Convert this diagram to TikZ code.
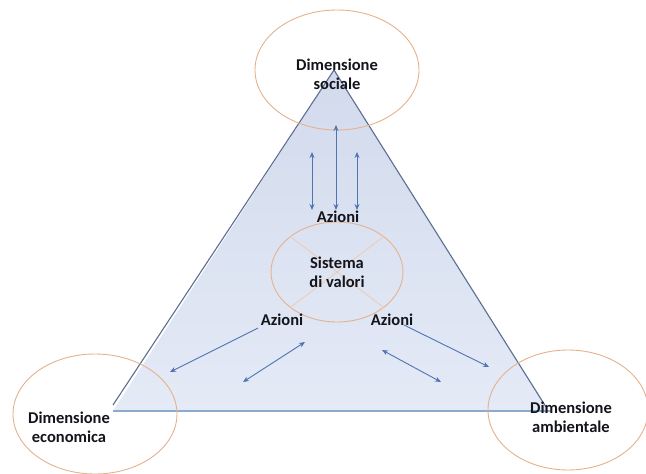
\documentclass[tikz,border=0pt]{standalone}
\usepackage{fontspec}
\setmainfont{Carlito}
\usetikzlibrary{arrows.meta,shapes.geometric}
\definecolor{ellc}{RGB}{230,178,142}
\definecolor{crossc}{RGB}{236,204,178}
\definecolor{trifillA}{RGB}{210,218,236}
\definecolor{trifillB}{RGB}{228,234,246}
\definecolor{triedge}{RGB}{92,110,145}
\definecolor{baseedge}{RGB}{140,170,205}
\definecolor{arrc}{RGB}{80,115,180}
\definecolor{txtc}{RGB}{20,20,28}
\tikzset{
  dimell/.style={draw=ellc, line width=0.9pt, ellipse, minimum width=164pt, minimum height=120pt, inner sep=0pt},
  lbl/.style={font=\fontsize{16.5}{19}\selectfont\bfseries, text=txtc, align=center, inner sep=0pt},
  arr/.style={draw=arrc, line width=0.9pt, {Stealth[length=6pt,width=5pt]}-{Stealth[length=6pt,width=5pt]}},
  arrone/.style={draw=arrc, line width=0.9pt, -{Stealth[length=6pt,width=5pt]}}
}
\begin{document}
\begin{tikzpicture}[x=1pt,y=-1pt]
\useasboundingbox (0,0) rectangle (646,474);
\fill[white] (0,0) rectangle (646,474);
% triangle
\coordinate (apex) at (334,70);
\coordinate (bl) at (113,405);
\coordinate (br) at (546,407);
\shade[top color=trifillA, bottom color=trifillB] (apex) -- (113,411) -- (549,411) -- cycle;
\draw[triedge, line width=1.1pt] (bl) -- (apex) -- (br);
\draw[baseedge, line width=1.1pt] (113,411) -- (550,411);
% ellipses
\node[dimell] (soc) at (337,70) {};
\node[dimell] (eco) at (95,414) {};
\node[dimell, minimum width=160pt] (amb) at (568,410) {};
\node[dimell, minimum width=132pt, minimum height=100pt] (val) at (337,272) {};
\draw[crossc, line width=0.8pt] (val.north west) -- (val.south east);
\draw[crossc, line width=0.8pt] (val.north east) -- (val.south west);
% texts
\node[lbl] (tsoc) at (337,74) {Dimensione\\sociale};
\node[lbl] (teco) at (69,427) {Dimensione\\economica};
\node[lbl] (tamb) at (571,417) {Dimensione\\ambientale};
\node[lbl] (tval) at (337,272) {Sistema\\di valori};
\node[lbl] (az1) at (338,217) {Azioni};
\node[lbl] (az2) at (282,320) {Azioni};
\node[lbl] (az3) at (392,320) {Azioni};
% vertical arrows
\coordinate (v1t) at (312,152); \coordinate (v1b) at (312,210);
\coordinate (v2t) at (336,125); \coordinate (v2b) at (336,210);
\coordinate (v3t) at (357,152); \coordinate (v3b) at (357,210);
\draw[arr] (v1t) -- (v1b);
\draw[arr] (v2t) -- (v2b);
\draw[arr] (v3t) -- (v3b);
% lower arrows
\coordinate (l1a) at (258,328); \coordinate (l1b) at (170,372);
\draw[arrone] (l1a) -- (l1b);
\coordinate (l2a) at (305,342); \coordinate (l2b) at (243,382);
\draw[arr] (l2a) -- (l2b);
\coordinate (r1a) at (404,325); \coordinate (r1b) at (489,367);
\draw[arrone] (r1a) -- (r1b);
\coordinate (r2a) at (382,350); \coordinate (r2b) at (441,382);
\draw[arr] (r2a) -- (r2b);
\end{tikzpicture}
\end{document}
